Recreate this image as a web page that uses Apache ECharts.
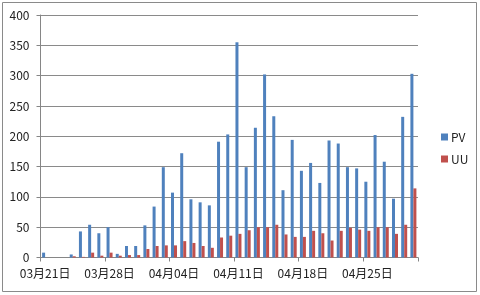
<!DOCTYPE html>
<html>
<head>
<meta charset="utf-8">
<script src="https://cdn.jsdelivr.net/npm/echarts@6/dist/echarts.min.js"></script>
<style>
html,body{margin:0;padding:0;background:#fff;}
#c{width:480px;height:295px;}
</style>
</head>
<body>
<div id="c"></div>
<script>
// Dates 03/21 .. 04/30
var categories = [
  "03月21日","03月22日","03月23日","03月24日","03月25日","03月26日","03月27日",
  "03月28日","03月29日","03月30日","03月31日","04月01日","04月02日","04月03日",
  "04月04日","04月05日","04月06日","04月07日","04月08日","04月09日","04月10日",
  "04月11日","04月12日","04月13日","04月14日","04月15日","04月16日","04月17日",
  "04月18日","04月19日","04月20日","04月21日","04月22日","04月23日","04月24日",
  "04月25日","04月26日","04月27日","04月28日","04月29日","04月30日"
];
var pv = [8,0,0,5,43,54,40,50,6,19,19,53,84,149,107,172,96,91,86,191,203,355,149,214,302,233,111,194,143,156,123,193,188,149,147,125,202,158,97,232,303];
var uu = [0,0,0,2,1,8,3,8,3,4,4,14,19,20,20,27,24,19,16,33,36,39,45,50,50,54,38,34,34,44,40,28,44,49,46,44,50,50,39,54,114];
var yTicks = [0,50,100,150,200,250,300,350,400];

var chart = echarts.init(document.getElementById('c'), null, {renderer:'canvas'});
var font = '"Noto Sans CJK JP","Noto Sans",sans-serif';
chart.setOption({
  animation:false,
  backgroundColor:'#fff',
  textStyle:{fontFamily:font},
  graphic:[{type:'rect',shape:{x:2.5,y:2.5,width:474,height:289},style:{fill:'none',stroke:'#8a8a8a',lineWidth:1},silent:true}],
  grid:{left:40.5,right:62,top:15,bottom:37.5,containLabel:false},
  legend:{
    orient:'vertical',left:436,top:126,itemWidth:7,itemHeight:7,itemGap:10,
    icon:'rect',textStyle:{fontSize:12,color:'#222',fontFamily:font,padding:[0,0,0,-2]},
    data:['PV','UU']
  },
  xAxis:{
    type:'category',data:categories,boundaryGap:true,
    axisLine:{lineStyle:{color:'#868686',width:1}},
    axisTick:{show:true,interval:6,length:4,lineStyle:{color:'#868686'}},
    axisLabel:{interval:6,fontSize:12,color:'#222',margin:10,fontFamily:font},
    splitLine:{show:false}
  },
  yAxis:{
    type:'value',min:yTicks[0],max:yTicks[yTicks.length-1],interval:50,
    axisLine:{show:true,lineStyle:{color:'#868686',width:1}},
    axisTick:{show:true,length:4,lineStyle:{color:'#868686'}},
    axisLabel:{fontSize:12,color:'#222',margin:11,fontFamily:font},
    splitLine:{lineStyle:{color:'#8a8a8a',width:1}}
  },
  series:[
    {name:'PV',type:'bar',data:pv,barWidth:3,barGap:'0%',itemStyle:{color:'#4F81BD'}},
    {name:'UU',type:'bar',data:uu,barWidth:3,barGap:'0%',itemStyle:{color:'#C0504D'}}
  ]
});
</script>
</body>
</html>
